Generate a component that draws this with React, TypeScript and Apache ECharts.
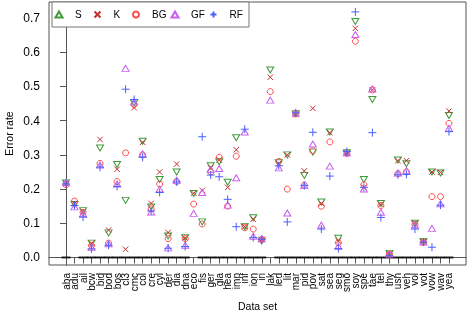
import React, { useEffect, useRef } from 'react';
import * as echarts from 'echarts';

const categories = ['aba','adu','ail','bcw','bid','bod','bos','cl3','cmc','col','cre','cyl','der','dia','dna','eco','fis','ger','gla','hea','imp','inf','ion','iri','lak','led','lit','mar','pid','pov','sat','sea','seg','smo','soy','spe','tae','tel','thy','usn','veh','vol','vot','vow','wav','yea'];

const sValues = [0.218,0.155,0.137,0.042,0.32,0.072,0.272,0.167,0.452,0.34,0.148,0.228,0.063,0.25,0.058,0.187,0.104,0.268,0.28,0.22,0.35,0.09,0.116,0.048,0.548,0.277,0.3,0.42,0.24,0.308,0.162,0.367,0.056,0.306,0.69,0.228,0.462,0.158,0.012,0.285,0.274,0.1,0.047,0.25,0.247,0.415];
const kValues = [0.215,0.158,0.135,0.042,0.345,0.08,0.258,0.024,0.438,0.337,0.158,0.25,0.073,0.273,0.057,0.188,0.196,0.262,0.285,0.205,0.315,0.09,0.112,0.053,0.527,0.275,0.3,0.418,0.253,0.436,0.158,0.365,0.048,0.305,0.67,0.205,0.49,0.155,0.01,0.283,0.283,0.1,0.046,0.25,0.249,0.428];
const bgValues = [0.213,0.165,0.132,0.035,0.275,0.042,0.222,0.306,0.447,0.3,0.142,0.215,0.055,0.222,0.055,0.156,0.098,0.25,0.293,0.15,0.296,0.087,0.083,0.053,0.485,0.281,0.2,0.42,0.212,0.312,0.15,0.338,0.043,0.304,0.632,0.213,0.49,0.152,0.01,0.245,0.25,0.097,0.045,0.178,0.178,0.392];
const gfValues = [0.22,0.148,0.128,0.03,0.27,0.04,0.215,0.553,0.455,0.303,0.133,0.2,0.028,0.226,0.036,0.129,0.19,0.258,0.26,0.153,0.233,0.367,0.062,0.055,0.46,0.262,0.13,0.422,0.21,0.332,0.095,0.267,0.033,0.306,0.652,0.2,0.493,0.132,0.01,0.247,0.254,0.095,0.045,0.085,0.157,0.378];
const rfValues: (number | null)[] = [0.215,0.152,0.118,0.025,0.264,0.036,0.208,0.492,0.462,0.293,0.136,0.19,0.027,0.221,0.032,null,0.353,0.241,0.236,0.17,0.09,0.375,0.058,0.053,null,0.268,0.104,0.423,0.21,0.366,0.083,0.238,0.026,0.31,0.718,0.205,0.365,0.117,0.005,0.242,0.243,0.083,0.045,0.03,0.153,0.368];
const zeroMarks: (number | null)[] = [0,null,0,0,0,0,0,0,0,0,0,0,0,0,0,null,0,0,0,0,0,0,0,0,null,0,0,0,0,0,0,0,0,0,0,0,0,0,0,0,0,0,0,0,0,0];

const yTicks = [0, 0.1, 0.2, 0.3, 0.4, 0.5, 0.6, 0.7];

const FONT = '"Liberation Sans", Arial, Helvetica, sans-serif';

const toPoints = (vals: (number | null)[]) =>
  vals.map((v, i) => [i, v]).filter((p) => p[1] !== null);

export default function App() {
  const ref = useRef<HTMLDivElement>(null);
  useEffect(() => {
    const chart = echarts.init(ref.current!, null, { renderer: 'svg' });
    const mk = (name: string, vals: (number | null)[], symbol: string, size: any, color: string, rotate = 0, z = 3) => ({
      name,
      type: 'scatter',
      data: toPoints(vals),
      symbol,
      symbolSize: size,
      symbolRotate: rotate,
      itemStyle: { color: 'rgba(0,0,0,0)', borderColor: color, borderWidth: 1, opacity: 1 },
      emphasis: { disabled: true },
      silent: true,
      z,
    });
    const xIdx = categories.map((_, i) => i);
    const evenIdx = xIdx.filter((i) => i % 2 === 0);
    const oddIdx = xIdx.filter((i) => i % 2 === 1);
    const labelBase = {
      rotate: 90,
      margin: 8,
      fontSize: 10,
      color: '#000',
      fontFamily: FONT,
      showMinLabel: true,
      showMaxLabel: true,
      hideOverlap: false,
      formatter: (v: number) => categories[Math.round(v)] ?? '',
    };
    chart.setOption({
      animation: false,
      textStyle: { fontFamily: FONT },
      grid: {
        left: 49, right: 5, top: 2, bottom: 50,
        show: true, borderColor: '#555', borderWidth: 1,
        containLabel: false, outerBoundsMode: 'none',
      },
      legend: {
        data: ['S', 'K', 'BG', 'GF', 'RF'],
        left: 52,
        top: 2,
        orient: 'horizontal',
        itemWidth: 7,
        itemHeight: 6,
        itemGap: 0,
        padding: [6.5, 1, 6.5, 2.5],
        backgroundColor: '#fff',
        borderColor: '#777',
        borderWidth: 1,
        textStyle: { fontSize: 10, color: '#000', fontFamily: FONT, width: 18.5, padding: [0, 0, 0, 7.5], lineHeight: 12 },
      },
      xAxis: [
        {
          type: 'value',
          position: 'bottom',
          min: -2,
          max: 47,
          name: 'Data set',
          nameLocation: 'middle',
          nameGap: 35,
          nameMoveOverlap: false,
          nameTextStyle: { fontSize: 10.5, color: '#000', fontFamily: FONT },
          axisLine: { show: true, lineStyle: { color: '#555', width: 1 } },
          axisTick: { show: true, length: 6, customValues: xIdx, lineStyle: { color: '#555' } },
          axisLabel: { ...labelBase, customValues: evenIdx },
          splitLine: { show: false },
        },
        {
          type: 'value',
          position: 'bottom',
          offset: 0,
          min: -2,
          max: 47,
          axisLine: { show: false },
          axisTick: { show: false },
          axisLabel: { ...labelBase, customValues: oddIdx },
          splitLine: { show: false },
        },
      ],
      yAxis: {
        type: 'value',
        min: -0.022,
        max: 0.747,
        name: 'Error rate',
        nameLocation: 'middle',
        nameGap: 35,
        nameMoveOverlap: false,
        nameTextStyle: { fontSize: 10.5, color: '#000', fontFamily: FONT },
        axisLine: { show: true, lineStyle: { color: '#555', width: 1 } },
        axisTick: { show: true, length: 6, customValues: yTicks, lineStyle: { color: '#555' } },
        axisLabel: {
          customValues: yTicks,
          margin: 9,
          fontSize: 12,
          color: '#000',
          fontFamily: FONT,
          showMinLabel: true,
          showMaxLabel: true,
          formatter: (v: number) => v.toFixed(1),
        },
        splitLine: { show: false },
      },
      series: [
        {
          name: 'zero',
          type: 'scatter',
          data: toPoints(zeroMarks),
          symbol: 'rect',
          symbolSize: [9, 2],
          itemStyle: { color: '#000' },
          emphasis: { disabled: true },
          silent: true,
          z: 2,
        },
        mk('S', sValues, 'triangle', [7, 6], '#3f9a3a', 180, 3),
        mk('K', kValues, 'path://M0,0L10,10M10,0L0,10', 5.5, '#c4302c', 0, 4),
        mk('BG', bgValues, 'circle', 6, '#ff4a4a', 0, 5),
        mk('GF', gfValues, 'triangle', [7, 6], '#c95ef0', 0, 6),
        mk('RF', rfValues, 'path://M0,5L10,5M5,0L5,10', 8, '#4a60ff', 0, 7),
      ],
    });
    return () => chart.dispose();
  }, []);
  return <div ref={ref} style={{ position: 'fixed', left: 0, top: 0, width: 471, height: 315 }} />;
}
